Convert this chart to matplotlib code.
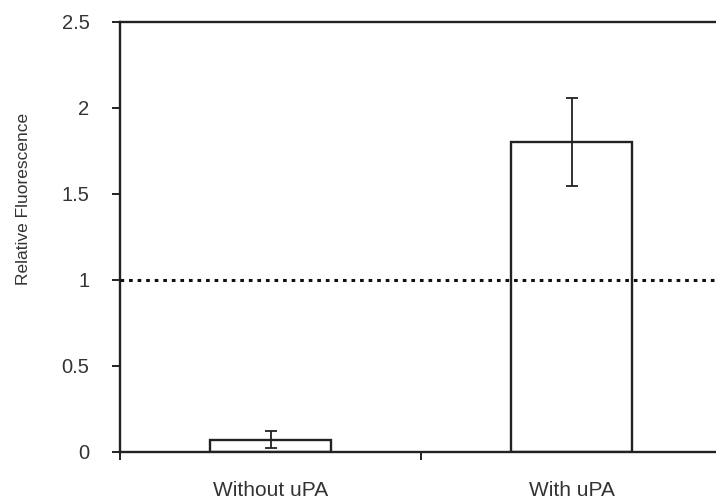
import matplotlib
matplotlib.use("Agg")
import matplotlib.pyplot as plt
from matplotlib.ticker import FixedLocator, NullFormatter, FormatStrFormatter

# Data
categories = ["Without uPA", "With uPA"]
values = [0.07, 1.80]
errors = [0.05, 0.255]
reference_level = 1.0
y_ticks = [0, 0.5, 1, 1.5, 2, 2.5]

plt.rcParams["font.family"] = ["Liberation Sans", "DejaVu Sans"]
ink = "#222222"
text_col = "#333333"

fig = plt.figure(figsize=(7.16, 5.04), dpi=100)
# plot area runs slightly past the right edge of the canvas
ax = fig.add_axes([120 / 716, 52.3 / 504, 602 / 716, 430 / 504])

x = list(range(len(categories)))
ax.bar(x, values, width=0.4, color="white", edgecolor=ink, linewidth=1.7, zorder=2)
ax.errorbar(x, values, yerr=errors, fmt="none", ecolor=ink, elinewidth=1.3,
            capsize=4.6, capthick=1.3, zorder=3)

ax.axhline(reference_level, color="#111111", linewidth=2.2,
           linestyle=(0, (1.2, 1.6)), zorder=4)

ax.set_xlim(-0.5, len(categories) - 0.5)
ax.set_ylim(0, 2.5)

# Category boundaries carry the tick marks; names sit at category centres
ax.xaxis.set_major_locator(FixedLocator([i - 0.5 for i in range(len(categories) + 1)]))
ax.xaxis.set_major_formatter(NullFormatter())
ax.xaxis.set_minor_locator(FixedLocator(x))
ax.set_xticklabels(categories, minor=True)
ax.tick_params(axis="x", which="major", direction="out", length=6, width=1.4, color=ink)
ax.tick_params(axis="x", which="minor", length=0, pad=21, labelsize=15, labelcolor=text_col)

ax.set_yticks(y_ticks)
ax.yaxis.set_major_formatter(FormatStrFormatter("%g"))
ax.tick_params(axis="y", direction="out", length=6, width=1.4, color=ink,
               pad=16, labelsize=14.5, labelcolor=text_col)

for side in ["left", "bottom", "top", "right"]:
    ax.spines[side].set_linewidth(1.7)
    ax.spines[side].set_color(ink)

fig.text(24 / 716, 1 - 199 / 504, "Relative Fluorescence", rotation=90,
         ha="center", va="center", fontsize=12.5, color=text_col)

fig.savefig("out.png", dpi=100, facecolor="white")
